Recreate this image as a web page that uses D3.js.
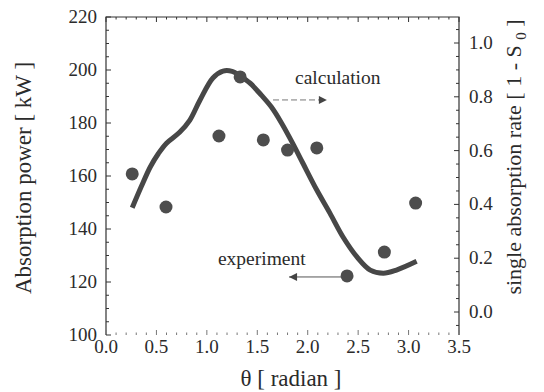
<!DOCTYPE html>
<html>
<head>
<meta charset="utf-8">
<script src="https://cdn.jsdelivr.net/npm/d3@7"></script>
<style>
  body { margin: 0; background: #fff; }
  svg { display: block; }
</style>
</head>
<body>
<script>
// calculation curve (left axis, kW)
const calcTheta = [0.26, 0.35, 0.44, 0.52, 0.60, 0.73, 0.83, 0.93, 1.06, 1.16, 1.25, 1.32, 1.43, 1.54, 1.64, 1.74, 1.85, 1.95, 2.09, 2.22, 2.35, 2.49, 2.62, 2.75, 2.88, 3.08]
const calcPower = [148, 156, 163.5, 168.5, 172.4, 176.5, 181, 188.5, 197, 199.6, 199.5, 198, 195, 190.5, 186, 180, 172.4, 165, 154.7, 146, 137, 129.4, 124.5, 123.3, 124.5, 127.8]

// experiment points
const expTheta = [0.26, 0.595, 1.12, 1.33, 1.56, 1.80, 2.09, 2.39, 2.76, 3.07]
const expPower = [160.8, 148.3, 175.1, 197.4, 173.6, 169.8, 170.6, 122.3, 131.3, 149.8]

const xTicks = [0, 0.5, 1, 1.5, 2, 2.5, 3, 3.5]
const yTicks = [100, 120, 140, 160, 180, 200, 220]
const y2Ticks = [0, 0.2, 0.4, 0.6, 0.8, 1.0]

const width = 544
const height = 392
const margin = { top: 17, right: 85, bottom: 57, left: 106 }
const serif = '"Liberation Serif"'
const textColor = '#2b2b2b'
const axisColor = '#333'

const svg = d3.select('body').append('svg')
  .attr('width', width)
  .attr('height', height)

const addText = (sel, size) => sel.append('text')
  .style('font-family', serif)
  .attr('font-size', size)
  .attr('fill', textColor)

const x = d3.scaleLinear().domain([0, 3.5]).range([margin.left, width - margin.right])
const y = d3.scaleLinear().domain([100, 220]).range([height - margin.bottom, margin.top])
const y2 = d3.scaleLinear().domain([-0.0855, 1.0967]).range([height - margin.bottom, margin.top])

const x0 = x.range()[0]
const x1 = x.range()[1]
const yb = y.range()[0]
const yt = y.range()[1]

// frame: left, top, right (bottom line is missing in the scan)
svg.append('path')
  .attr('d', `M${x0},${yb}V${yt}H${x1}V${yb}`)
  .attr('fill', 'none')
  .attr('stroke', axisColor)
  .attr('stroke-width', 1.2)

const ticks = svg.append('g').attr('stroke', axisColor).attr('stroke-width', 1)

// x ticks: bottom (upwards) and top (downwards)
d3.range(0, 3.5001, 0.1).forEach(v => {
  const major = Math.abs(v * 2 - Math.round(v * 2)) < 1e-6
  const len = major ? 5 : 2.5
  ticks.append('line')
    .attr('x1', x(v)).attr('x2', x(v))
    .attr('y1', yb).attr('y2', yb - len)
    .attr('stroke', '#777')
  ticks.append('line')
    .attr('x1', x(v)).attr('x2', x(v))
    .attr('y1', yt).attr('y2', yt + len)
})

// left ticks
d3.range(100, 220.001, 5).forEach(v => {
  const len = v % 20 === 0 ? 5 : 3
  ticks.append('line')
    .attr('x1', x0).attr('x2', x0 + len)
    .attr('y1', y(v)).attr('y2', y(v))
})

// right ticks
d3.range(-0.05, 1.1, 0.05).forEach(v => {
  const major = Math.abs(v * 5 - Math.round(v * 5)) < 1e-6
  const len = major ? 5 : 3
  ticks.append('line')
    .attr('x1', x1).attr('x2', x1 - len)
    .attr('y1', y2(v)).attr('y2', y2(v))
})

// tick labels
xTicks.forEach(d => {
  addText(svg, 19)
    .attr('x', x(d))
    .attr('y', yb + 18)
    .attr('text-anchor', 'middle')
    .text(d.toFixed(1))
})

yTicks.forEach(d => {
  addText(svg, 19)
    .attr('x', x0 - 9)
    .attr('y', d => y(d) + 6)
    .attr('y', y(d) + 6)
    .attr('text-anchor', 'end')
    .text(d)
})

y2Ticks.forEach(d => {
  addText(svg, 19)
    .attr('x', x1 + 10)
    .attr('y', y2(d) + 6)
    .text(d.toFixed(1))
})

// axis titles
addText(svg, 23)
  .attr('transform', `translate(31,${(yb + yt) / 2 + 2}) rotate(-90)`)
  .attr('text-anchor', 'middle')
  .text('Absorption power [ kW ]')

const rt = addText(svg, 22)
  .attr('transform', 'translate(521,157) rotate(-90)')
  .attr('text-anchor', 'middle')
rt.append('tspan').text('single absorption rate [ 1 - S ')
rt.append('tspan').attr('font-size', 15).attr('dy', 5).text('0')
rt.append('tspan').attr('dy', -5).text(' ]')

addText(svg, 23)
  .attr('x', 291)
  .attr('y', 386)
  .attr('text-anchor', 'middle')
  .text('θ [ radian ]')

// calculation curve
const calcData = calcTheta.map((t, i) => [t, calcPower[i]])
svg.append('path')
  .datum(calcData)
  .attr('fill', 'none')
  .attr('stroke', '#474747')
  .attr('stroke-width', 5)
  .attr('stroke-linejoin', 'round')
  .attr('d', d3.line().x(d => x(d[0])).y(d => y(d[1])).curve(d3.curveCatmullRom.alpha(0.5)))

// experiment points
svg.append('g').selectAll('circle')
  .data(expTheta.map((t, i) => [t, expPower[i]]))
  .join('circle')
  .attr('cx', d => x(d[0]))
  .attr('cy', d => y(d[1]))
  .attr('r', 6.5)
  .attr('fill', '#4d4d4d')

// annotations
svg.append('defs').append('marker')
  .attr('id', 'arrow')
  .attr('viewBox', '0 0 10 10')
  .attr('refX', 10).attr('refY', 5)
  .attr('markerWidth', 10).attr('markerHeight', 8)
  .attr('markerUnits', 'userSpaceOnUse')
  .attr('orient', 'auto')
  .append('path')
  .attr('d', 'M0,0L10,5L0,10z')
  .attr('fill', '#444')

addText(svg, 19.5)
  .attr('x', x(1.874)).attr('y', y(194.7))
  .text('calculation')

svg.append('line')
  .attr('x1', x(1.656)).attr('x2', x(2.19))
  .attr('y1', y(188.7)).attr('y2', y(188.7))
  .attr('stroke', '#777')
  .attr('stroke-width', 1)
  .attr('stroke-dasharray', '6,3')
  .attr('marker-end', 'url(#arrow)')

addText(svg, 19.5)
  .attr('x', x(1.11)).attr('y', y(126.4))
  .text('experiment')

svg.append('line')
  .attr('x1', x(2.34)).attr('x2', x(1.815))
  .attr('y1', y(121.9)).attr('y2', y(121.9))
  .attr('stroke', '#555')
  .attr('stroke-width', 1)
  .attr('marker-end', 'url(#arrow)')
</script>
</body>
</html>
